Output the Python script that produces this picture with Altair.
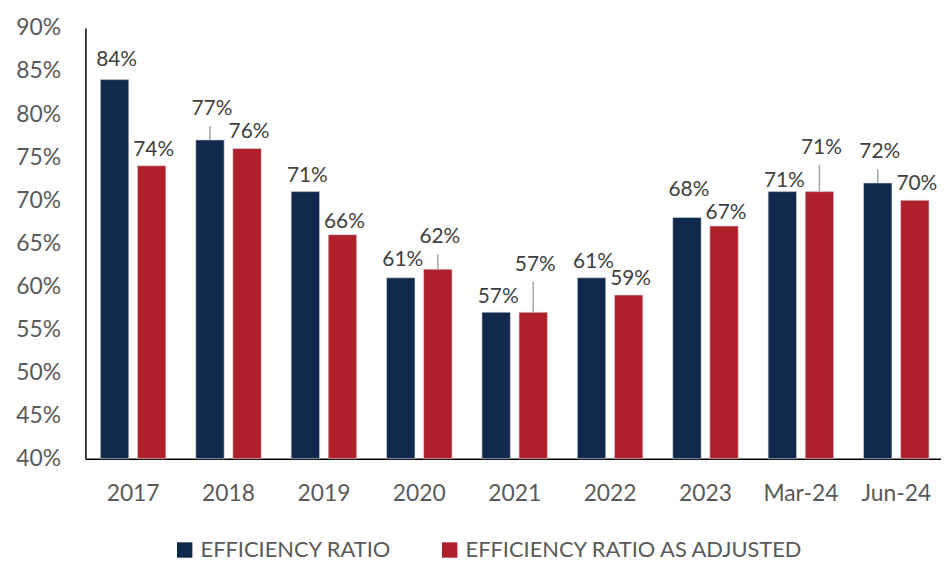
import altair as alt
import pandas as pd

categories = ["2017", "2018", "2019", "2020", "2021", "2022", "2023", "Mar-24", "Jun-24"]
efficiency_ratio = [84, 77, 71, 61, 57, 61, 68, 71, 72]
efficiency_ratio_adjusted = [74, 76, 66, 62, 57, 59, 67, 71, 70]
series_names = ["EFFICIENCY RATIO", "EFFICIENCY RATIO AS ADJUSTED"]
y_ticks = [40, 45, 50, 55, 60, 65, 70, 75, 80, 85, 90]

# label placement offsets (percentage points above the bar end), styling only
label_lift_er = [0.58, 1.84, 0.1, 0.35, 0.0, 0.1, 1.5, -0.55, 1.84]
label_lift_adj = [0.1, 0.15, -0.23, 1.96, 3.8, 0.1, -0.17, 3.34, 0.1]

NAVY = "#10294D"
RED = "#B0202A"
FONT = "Lato"

rows = []
for i, c in enumerate(categories):
    rows.append({"cat": c, "series": series_names[0],
                 "value": efficiency_ratio[i] / 100, "lift": label_lift_er[i] / 100})
    rows.append({"cat": c, "series": series_names[1],
                 "value": efficiency_ratio_adjusted[i] / 100, "lift": label_lift_adj[i] / 100})
df = pd.DataFrame(rows)

x = alt.X("cat:N", sort=categories,
          scale=alt.Scale(range=[0, 865], paddingInner=0, paddingOuter=0),
          axis=alt.Axis(title=None, labelAngle=0, labelFontSize=23, labelColor="#595959",
                        labelFont=FONT, ticks=False, domainColor="black", domainWidth=1.5,
                        labelPadding=42, labelBaseline="alphabetic", grid=False))
xo = alt.XOffset("series:N", sort=series_names,
                 scale=alt.Scale(domain=series_names, paddingInner=0.234, paddingOuter=0.4035))

base = alt.Chart(df)

bars = base.mark_bar(stroke="#D6DAE0", strokeWidth=0.6).encode(
    x=x,
    xOffset=xo,
    y=alt.Y("value:Q",
            scale=alt.Scale(domain=[0.4, 0.9], nice=False, zero=False),
            axis=alt.Axis(title=None, values=[v / 100 for v in y_ticks], format=".0%",
                          labelFontSize=23, labelColor="#595959", labelFont=FONT,
                          ticks=False, domainColor="black", domainWidth=1.5,
                          labelPadding=25, grid=False)),
    y2=alt.datum(0.4),
    color=alt.Color("series:N", sort=series_names,
                    scale=alt.Scale(domain=series_names, range=[NAVY, RED]),
                    legend=alt.Legend(title=None, orient="none", legendX=89, legendY=515,
                                      direction="horizontal", symbolType="square",
                                      symbolSize=240, symbolStrokeWidth=0,
                                      labelFontSize=22, labelFont=FONT, labelColor="#595959",
                                      labelOffset=5, columnPadding=47, padding=0,
                                      labelLimit=500)),
)

labels = base.transform_calculate(
    label_y="datum.value + datum.lift"
).mark_text(baseline="alphabetic", dy=-9, dx=2, fontSize=21, color="#404040", font=FONT).encode(
    x=x,
    xOffset=xo,
    y=alt.Y("label_y:Q"),
    text=alt.Text("value:Q", format=".0%"),
)

leaders = base.transform_filter(
    "datum.lift >= 0.017"
).transform_calculate(
    top="datum.value + datum.lift - 0.0023"
).mark_rule(color="#A6A6A6", strokeWidth=1.5).encode(
    x=x,
    xOffset=xo,
    y=alt.Y("value:Q"),
    y2=alt.Y2("top:Q"),
)

chart = alt.layer(bars, leaders, labels).properties(
    width=862, height=434,
    padding={"left": 78, "top": 18, "right": 0, "bottom": 102},
    autosize="none",
).configure_view(stroke=None)

chart.save("out.html", embed_options={"renderer": "svg", "actions": False})
